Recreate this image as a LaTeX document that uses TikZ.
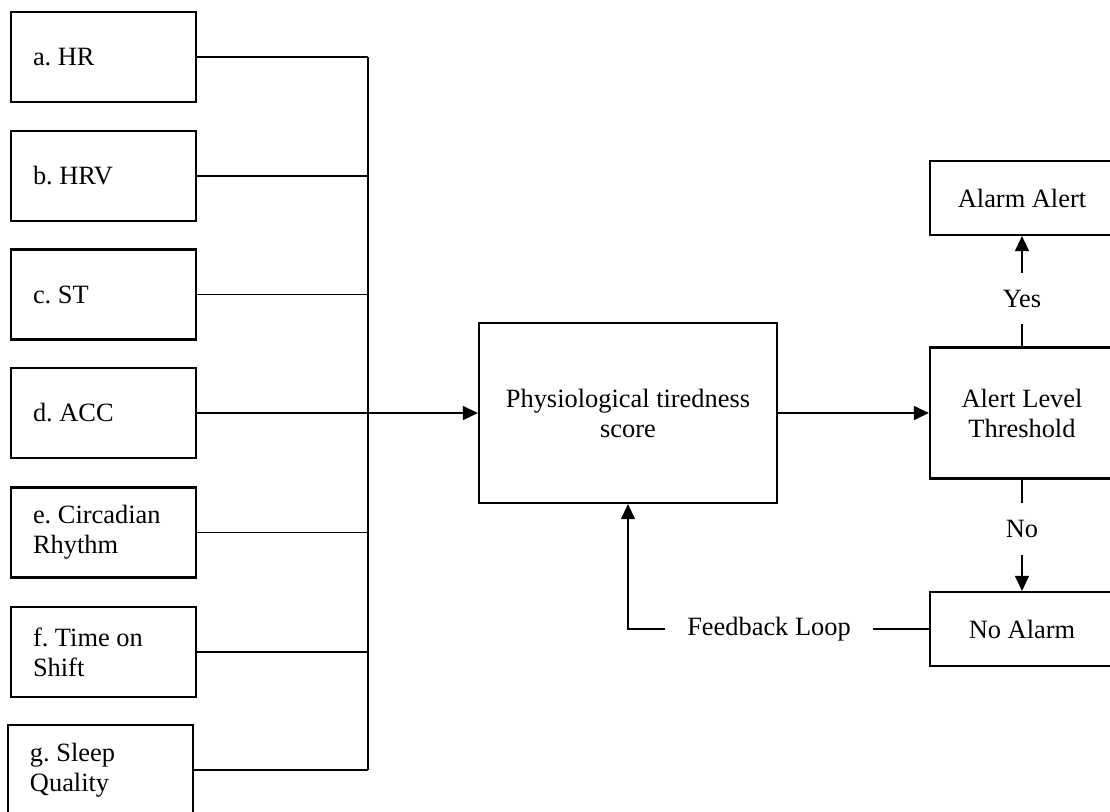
\documentclass[tikz,border=0pt]{standalone}
\usepackage{fontspec}
\setmainfont{Liberation Serif}
\usetikzlibrary{arrows.meta}
\frenchspacing

\begin{document}
\begin{tikzpicture}[x=0.5pt,y=-0.5pt,
		box/.style={draw, line width=1.1pt, minimum height=45pt, font=\fontsize{13.2}{15}\selectfont},
		inbox/.style={box, text width=70.5pt, inner xsep=11pt, align=flush left},
		outbox/.style={box, minimum width=92pt, align=center},
		branch/.style={font=\fontsize{13.2}{15}\selectfont, minimum height=25.5pt},
		wire/.style={line width=0.6pt},
		arrow/.style={wire, -{Triangle[length=7.5pt,width=7pt]}}]
		\useasboundingbox (0,0) rectangle (1110,811);

		% Draw the input boxes
		\node[inbox] (hr)    at (103.5,57)  {a. HR};
		\node[inbox] (hrv)   at (103.5,176) {b. HRV};
		\node[inbox] (st)    at (103.5,294.5) {c. ST};
		\node[inbox] (acc)   at (103.5,413) {d. ACC};
		\node[inbox] (circ)  at (103.5,532.5) {e. Circadian\\Rhythm};
		\node[inbox] (shift) at (103.5,652) {f. Time on\\Shift};
		\node[inbox] (sleep) at (100.5,770) {g. Sleep\\Quality};

		% Draw the score box and the decision boxes
		\node[box, minimum width=149pt, minimum height=90pt, align=center] (score) at (628,413) {Physiological tiredness\\score};
		\node[outbox, minimum height=65.5pt] (thresh)  at (1022,413) {Alert Level\\Threshold};
		\node[outbox, minimum height=37pt]   (alert)   at (1022,198) {Alarm Alert};
		\node[outbox, minimum height=37pt]   (noalarm) at (1022,629) {No Alarm};

		% Draw the wires joining the inputs
		\coordinate (bus) at (368,0);
		\foreach \n in {hr,hrv,st,circ,shift,sleep}
			\draw[wire] (\n.east) -- (\n.east -| bus);
		\draw[wire] (hr.east -| bus) -- (sleep.east -| bus);
		\draw[arrow] (acc.east) -- (score.west);
		\draw[arrow] (score.east) -- (thresh.west);

		% Draw the yes/no branches
		\node[branch] (yes) at (1022,298.5) {Yes};
		\node[branch] (no)  at (1022,529)   {No};
		\draw[wire] (thresh) -- (yes);
		\draw[arrow] (yes) -- (alert);
		\draw[wire] (thresh) -- (no);
		\draw[arrow] (no) -- (noalarm);

		% Draw the feedback loop
		\node[branch, minimum width=104pt] (loop) at (769,629) {Feedback Loop};
		\draw[wire] (noalarm) -- (loop);
		\draw[arrow] (loop.west) -| (score.south);

	\end{tikzpicture}
\end{document}
